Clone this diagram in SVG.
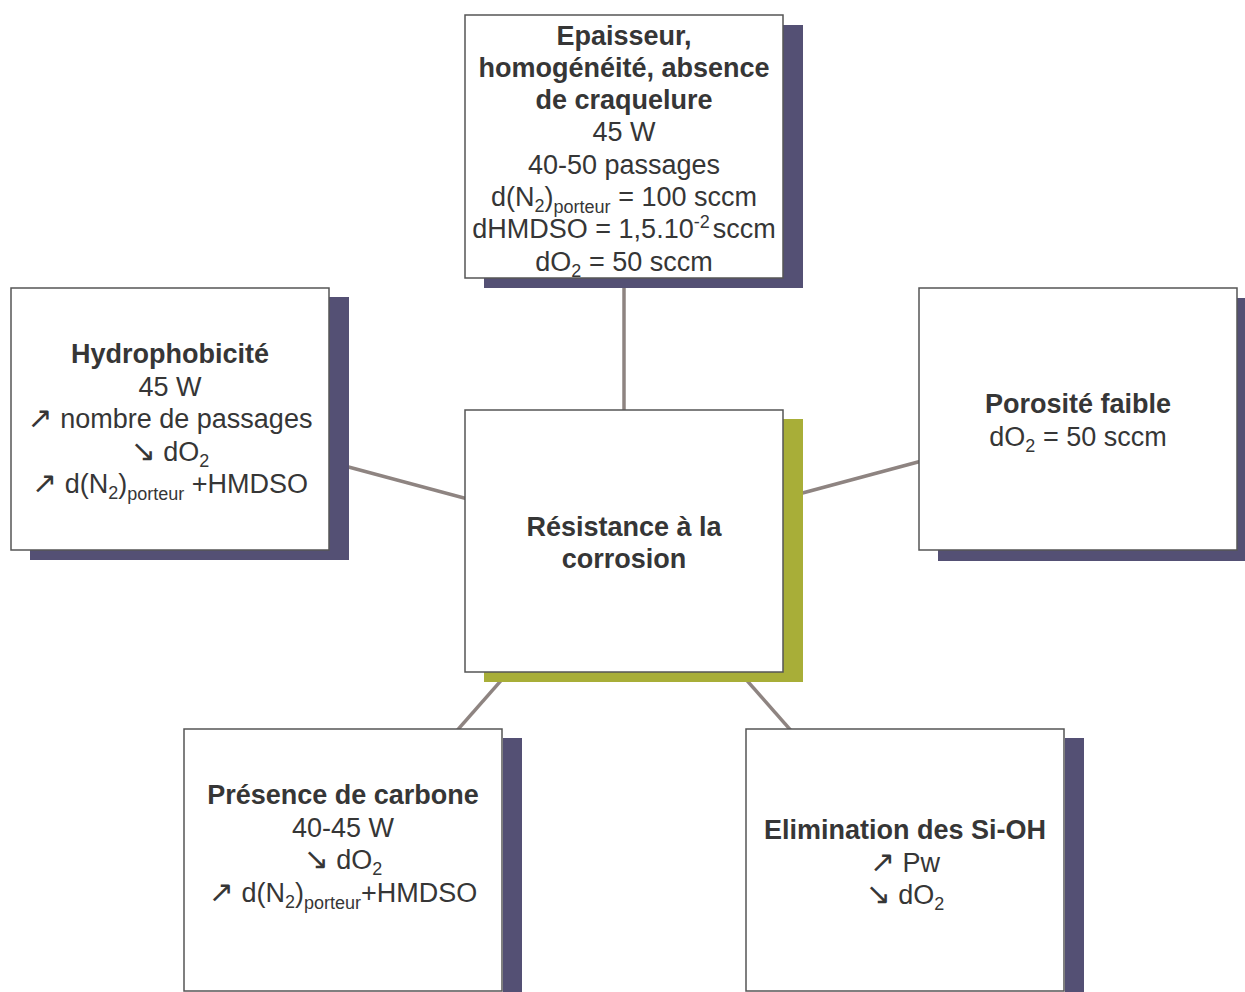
<svg xmlns="http://www.w3.org/2000/svg" width="1245" height="992" viewBox="0 0 1245 992">
<style>
.bg{fill:#ffffff}
.shadow{fill:#545074}
.shadowc{fill:#a8ae38}
.box{fill:#ffffff;stroke:#555555;stroke-width:1.5}
.conn{stroke:#8e8481;stroke-width:3.5;fill:none}
text{font-family:"Liberation Sans",Arial,"DejaVu Sans",sans-serif;font-size:27px;fill:#363636;text-anchor:middle}
.b{font-weight:bold}
.s{font-size:18px}
.ar{font-family:"DejaVu Sans",sans-serif;font-size:30px}
</style>
<rect class="bg" x="0" y="0" width="1245" height="992"/>
<g id="connectors">
<line class="conn" x1="624" y1="541" x2="624" y2="146"/>
<line class="conn" x1="624" y1="541" x2="170" y2="419"/>
<line class="conn" x1="624" y1="541" x2="1078" y2="419"/>
<line class="conn" x1="624" y1="541" x2="343" y2="860"/>
<line class="conn" x1="624" y1="541" x2="905" y2="860"/>
</g>
<g id="node-top">
<rect class="shadow" x="484" y="25" width="319" height="263"/>
<rect class="box" x="465" y="15" width="318" height="263"/>
<text class="b" x="624" y="45">Epaisseur,</text>
<text class="b" x="624" y="77">homogénéité, absence</text>
<text class="b" x="624" y="109">de craquelure</text>
<text x="624" y="141">45 W</text>
<text x="624" y="173.5">40-50 passages</text>
<text x="624" y="205.5">d(N<tspan class="s" dy="6">2</tspan><tspan dy="-6">)</tspan><tspan class="s" dy="7">porteur</tspan><tspan dy="-7"> = 100 sccm</tspan></text>
<text x="624" y="238">dHMDSO = 1,5.10<tspan class="s" dy="-10">-2</tspan><tspan dy="10" dx="3">sccm</tspan></text>
<text x="624" y="270.5">dO<tspan class="s" dy="6">2</tspan><tspan dy="-6"> = 50 sccm</tspan></text>
</g>
<g id="node-left">
<rect class="shadow" x="30" y="297" width="319" height="263"/>
<rect class="box" x="11" y="288" width="318" height="262"/>
<text class="b" x="170" y="363">Hydrophobicité</text>
<text x="170" y="395.5">45 W</text>
<text x="170" y="428"><tspan class="ar">↗</tspan> nombre de passages</text>
<text x="170" y="460.5"><tspan class="ar">↘</tspan> dO<tspan class="s" dy="6">2</tspan></text>
<text x="170" y="493"><tspan class="ar">↗</tspan> d(N<tspan class="s" dy="6">2</tspan><tspan dy="-6">)</tspan><tspan class="s" dy="7">porteur</tspan><tspan dy="-7"> +HMDSO</tspan></text>
</g>
<g id="node-right">
<rect class="shadow" x="938" y="298" width="319" height="263"/>
<rect class="box" x="919" y="288" width="318" height="262"/>
<text class="b" x="1078" y="413">Porosité faible</text>
<text x="1078" y="445.5">dO<tspan class="s" dy="6">2</tspan><tspan dy="-6"> = 50 sccm</tspan></text>
</g>
<g id="node-center">
<rect class="shadowc" x="484" y="419" width="319" height="263"/>
<rect class="box" x="465" y="410" width="318" height="262"/>
<text class="b" x="624" y="536">Résistance à la</text>
<text class="b" x="624" y="568">corrosion</text>
</g>
<g id="node-bottom-left">
<rect class="shadow" x="503" y="738" width="19" height="263"/>
<rect class="box" x="184" y="729" width="318" height="262"/>
<text class="b" x="343" y="804">Présence de carbone</text>
<text x="343" y="836.5">40-45 W</text>
<text x="343" y="869"><tspan class="ar">↘</tspan> dO<tspan class="s" dy="6">2</tspan></text>
<text x="343" y="901.5"><tspan class="ar">↗</tspan> d(N<tspan class="s" dy="6">2</tspan><tspan dy="-6">)</tspan><tspan class="s" dy="7">porteur</tspan><tspan dy="-7">+HMDSO</tspan></text>
</g>
<g id="node-bottom-right">
<rect class="shadow" x="1065" y="738" width="19" height="263"/>
<rect class="box" x="746" y="729" width="318" height="262"/>
<text class="b" x="905" y="839">Elimination des Si-OH</text>
<text x="905" y="871.5"><tspan class="ar">↗</tspan> Pw</text>
<text x="905" y="904"><tspan class="ar">↘</tspan> dO<tspan class="s" dy="6">2</tspan></text>
</g>
</svg>
